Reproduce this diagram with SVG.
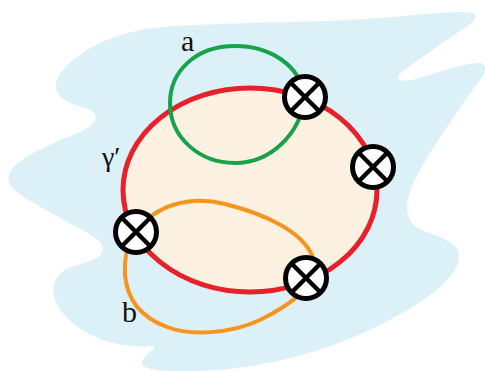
<svg xmlns="http://www.w3.org/2000/svg" width="485" height="371" viewBox="0 0 485 371">
<style>
.loop{fill:none;stroke-width:4;}
</style>
<defs>
<g id="otimes">
<circle cx="0" cy="0" r="20.5" fill="#ffffff" stroke="#000000" stroke-width="5"/>
<line x1="-14.5" y1="-14.5" x2="14.5" y2="14.5" stroke="#000000" stroke-width="4.5"/>
<line x1="14.5" y1="-14.5" x2="-14.5" y2="14.5" stroke="#000000" stroke-width="4.5"/>
</g>
</defs>
<g id="background">
<path fill="#dcf0f8" d="M 140,30 C 180,22 300,24 380,18 C 420,15 460,10 472,13 C 478,15 476,19 470,24 C 440,45 410,65 400,74 C 394,80 402,82 412,80 C 435,74 460,64 478,63 C 488,63 487,70 480,80 C 465,100 430,150 415,180 C 405,198 403,220 418,228 C 438,238 460,240 459,258 C 457,280 420,305 380,325 C 330,350 270,368 200,371 C 170,372 140,371 142,362 C 144,354 160,346 152,346 C 115,349 80,335 62,312 C 50,296 50,280 65,270 C 80,262 100,262 103,250 C 104,238 80,230 55,215 C 30,200 5,190 9,175 C 14,158 50,145 80,132 C 100,123 100,112 85,108 C 65,103 52,95 57,80 C 65,60 100,38 140,30 Z"/>
</g>
<g id="gamma-region">
<ellipse cx="250" cy="190" rx="127" ry="102" fill="#fdf1e2" stroke="#e8202a" stroke-width="5"/>
</g>
<g id="connectors">
<path id="loop-a" class="loop" stroke="#17a34a" d="M 305,97 C 300,65 270,46 235,46 C 195,46 170,72 170,103 C 170,138 200,163 235,163 C 270,163 300,135 305,97 Z"/>
<path id="loop-b" class="loop" stroke="#f7941d" d="M 136,232 C 155,205 190,195 225,204 C 265,214 305,232 314,260 C 320,285 290,305 260,320 C 230,334 190,336 167,327 C 140,317 127,298 125,275 C 124,255 128,242 136,232 Z"/>
</g>
<g id="m1" transform="translate(305,97)"><use href="#otimes"/></g>
<g id="m2" transform="translate(373,167)"><use href="#otimes"/></g>
<g id="m3" transform="translate(136,232)"><use href="#otimes"/></g>
<g id="m4" transform="translate(306,278)"><use href="#otimes"/></g>
<g id="labels" font-family="Liberation Serif, DejaVu Serif, serif" fill="#111111">
<text x="181" y="51" font-size="30">a</text>
<text x="102" y="166" font-size="28">γ′</text>
<text x="122" y="322" font-size="30">b</text>
</g>
</svg>
